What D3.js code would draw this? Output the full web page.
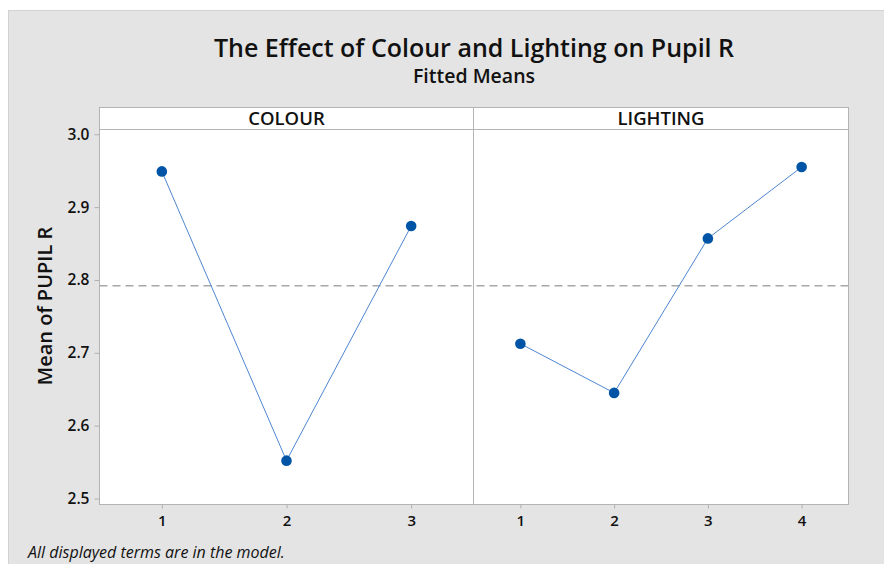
<!DOCTYPE html>
<html>
<head>
<meta charset="utf-8">
<script src="https://cdn.jsdelivr.net/npm/d3@7"></script>
<style>
  html, body { margin: 0; padding: 0; background: #ffffff; }
  svg { display: block; font-family: "Open Sans", "Noto Sans", sans-serif; }
</style>
</head>
<body>
<svg id="chart" width="884" height="564"></svg>
<script>
// Main effects
const colourLevels = ["1", "2", "3"];
const colourMeans = [2.949, 2.552, 2.874];
const lightingLevels = ["1", "2", "3", "4"];
const lightingMeans = [2.7125, 2.645, 2.857, 2.955];
const grandMean = 2.792;
const yTicks = [2.5, 2.6, 2.7, 2.8, 2.9, 3.0];

const svg = d3.select("#chart");

// frame geometry
const left = 99.5, mid = 473.5, right = 848.5;
const stripTop = 107.5, plotTop = 129.5, bottom = 504.5;

const panels = [
    { name: "COLOUR", levels: colourLevels, means: colourMeans, x0: left, x1: mid },
    { name: "LIGHTING", levels: lightingLevels, means: lightingMeans, x0: mid, x1: right }
];

// background
svg.append("rect")
    .attr("x", 8.5).attr("y", 10.5)
    .attr("width", 884).attr("height", 564)
    .attr("fill", "#e4e4e4")
    .attr("stroke", "#d2d2d2");

// titles
svg.append("text")
    .attr("x", (left + right) / 2).attr("y", 57)
    .attr("text-anchor", "middle")
    .attr("font-size", 25).attr("font-weight", 600)
    .attr("fill", "#111")
    .text("The Effect of Colour and Lighting on Pupil R");

svg.append("text")
    .attr("x", (left + right) / 2).attr("y", 83)
    .attr("text-anchor", "middle")
    .attr("font-size", 19.5).attr("font-weight", 600)
    .attr("fill", "#111")
    .text("Fitted Means");

const y = d3.scaleLinear()
    .domain([2.4918, 3.0065])
    .range([bottom, plotTop]);

// panel backgrounds
svg.append("rect")
    .attr("x", left).attr("y", stripTop)
    .attr("width", right - left).attr("height", bottom - stripTop)
    .attr("fill", "#fff");

// reference line (grand mean)
svg.append("line")
    .attr("x1", left).attr("x2", right)
    .attr("y1", y(grandMean)).attr("y2", y(grandMean))
    .attr("stroke", "#a8a8a8")
    .attr("stroke-width", 1.5)
    .attr("stroke-dasharray", "8,5");

panels.forEach(p => {
    const x = d3.scalePoint()
        .domain(p.levels)
        .range([p.x0, p.x1])
        .padding(0.5);

    const pts = p.levels.map((l, i) => ({ level: l, mean: p.means[i] }));

    // strip label
    svg.append("text")
        .attr("x", (p.x0 + p.x1) / 2).attr("y", 125)
        .attr("text-anchor", "middle")
        .attr("font-size", 18.5).attr("font-weight", 600)
        .attr("fill", "#111")
        .text(p.name);

    // x axis
    const gx = svg.append("g")
        .attr("transform", `translate(0,${bottom})`)
        .call(d3.axisBottom(x).tickSize(4).tickPadding(7));
    gx.select(".domain").remove();
    gx.selectAll(".tick line").attr("stroke", "#b0b0b0");
    gx.selectAll(".tick text")
        .attr("font-size", 15).attr("font-weight", 600)
        .attr("font-family", "Open Sans, sans-serif")
        .attr("fill", "#111");

    svg.append("path")
        .datum(pts)
        .attr("fill", "none")
        .attr("stroke", "#4f86cf")
        .attr("stroke-width", 1)
        .attr("d", d3.line().x(d => x(d.level)).y(d => y(d.mean)));

    svg.append("g")
        .selectAll("circle")
        .data(pts)
        .join("circle")
        .attr("cx", d => x(d.level))
        .attr("cy", d => y(d.mean))
        .attr("r", 5.3)
        .attr("fill", "#0054a6");
});

// borders
svg.append("rect")
    .attr("x", left).attr("y", stripTop)
    .attr("width", right - left).attr("height", bottom - stripTop)
    .attr("fill", "none").attr("stroke", "#b4b4b4");
svg.append("line")
    .attr("x1", left).attr("x2", right)
    .attr("y1", plotTop).attr("y2", plotTop)
    .attr("stroke", "#b4b4b4");
svg.append("line")
    .attr("x1", mid).attr("x2", mid)
    .attr("y1", stripTop).attr("y2", bottom)
    .attr("stroke", "#b4b4b4");

// y axis
const gy = svg.append("g")
    .attr("transform", `translate(${left},0)`)
    .call(d3.axisLeft(y).tickValues(yTicks).tickFormat(d3.format(".1f")).tickSize(5).tickPadding(5));
gy.select(".domain").remove();
gy.selectAll(".tick line").attr("stroke", "#b0b0b0");
gy.selectAll(".tick text")
    .attr("font-size", 15.5).attr("font-weight", 600)
    .attr("font-family", "Open Sans, sans-serif")
    .attr("fill", "#111");

svg.append("text")
    .attr("transform", `translate(52,${(stripTop + bottom) / 2}) rotate(-90)`)
    .attr("text-anchor", "middle")
    .attr("font-size", 20).attr("font-weight", 600)
    .attr("fill", "#111")
    .text("Mean of PUPIL R");

svg.append("text")
    .attr("x", 28).attr("y", 558)
    .attr("font-size", 16).attr("font-style", "italic")
    .attr("fill", "#111")
    .text("All displayed terms are in the model.");
</script>
</body>
</html>
